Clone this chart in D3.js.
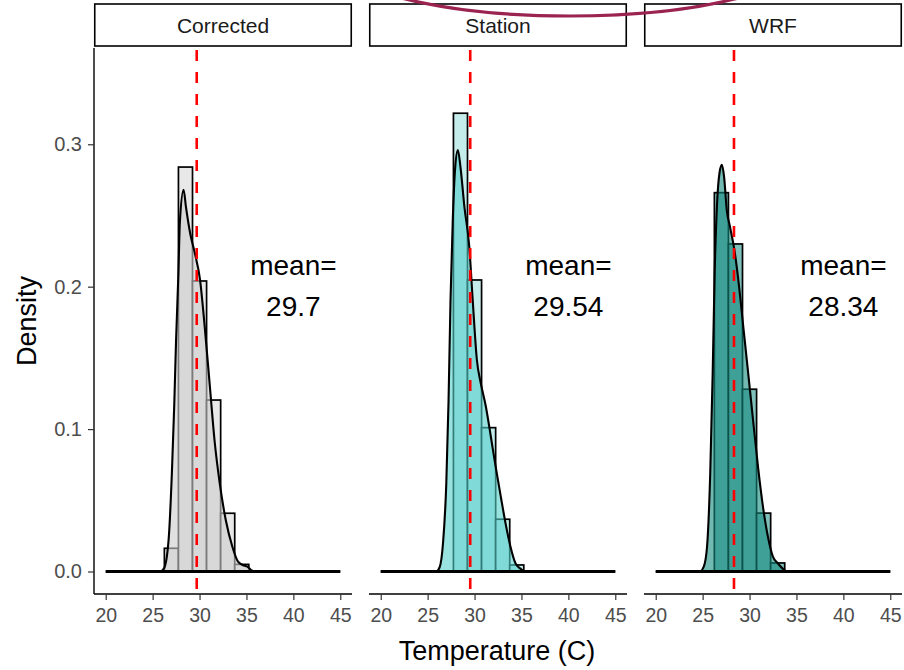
<!DOCTYPE html>
<html>
<head>
<meta charset="utf-8">
<script src="https://cdn.jsdelivr.net/npm/d3@7"></script>
<style>
  body { margin: 0; background: #fff; }
  text { font-family: "Liberation Sans", Arial, sans-serif; }
</style>
</head>
<body>
<svg width="904" height="670"></svg>
<script>
// data
const panels = ["Corrected", "Station", "WRF"];
const means = [29.7, 29.54, 28.34];
const binEdges = [26.25, 27.75, 29.25, 30.75, 32.25, 33.75, 35.25];
const histCorrected = [0.0163, 0.284, 0.204, 0.1204, 0.0409, 0.005];
const histStation = [0.0, 0.3218, 0.2047, 0.101, 0.0367, 0.0046];
const histWRF = [0.266, 0.230, 0.128, 0.041, 0.006, 0.0];

const densXCorrected = [20, 25.8, 26.2, 26.7, 27.05, 27.3, 27.5, 27.75, 27.9, 28.3, 28.55, 29.0, 29.5, 30.05, 30.55, 31.1, 31.6, 32.15, 32.8, 33.5, 34.1, 34.6, 35.1, 35.5, 36.0, 45];
const densYCorrected = [0, 0, 0.002, 0.022, 0.069, 0.116, 0.163, 0.21, 0.245, 0.268, 0.256, 0.2375, 0.2235, 0.205, 0.172, 0.130, 0.092, 0.062, 0.036, 0.0174, 0.0069, 0.0046, 0.0034, 0.001, 0, 0];
const densXStation = [20, 25.9, 26.28, 26.64, 26.99, 27.23, 27.44, 27.69, 27.94, 28.22, 28.5, 28.92, 29.44, 29.8, 30.25, 30.67, 31.2, 31.73, 32.25, 32.8, 33.3, 33.83, 34.36, 34.9, 35.4, 45];
const densYStation = [0, 0, 0.003, 0.020, 0.062, 0.120, 0.191, 0.249, 0.284, 0.296, 0.284, 0.256, 0.228, 0.191, 0.1485, 0.132, 0.116, 0.095, 0.0736, 0.0525, 0.034, 0.0174, 0.0058, 0.002, 0, 0];
const densXWRF = [20, 24.7, 25.12, 25.47, 25.81, 26.07, 26.28, 26.52, 26.8, 27.05, 27.29, 27.57, 27.92, 28.38, 28.8, 29.33, 29.86, 30.38, 30.9, 31.43, 31.96, 32.49, 33.01, 33.54, 34.0, 45];
const densYWRF = [0, 0, 0.0034, 0.0174, 0.069, 0.139, 0.209, 0.256, 0.28, 0.2855, 0.277, 0.254, 0.242, 0.226, 0.205, 0.172, 0.139, 0.106, 0.0736, 0.0455, 0.0244, 0.0104, 0.0058, 0.002, 0, 0];

const xTicks = [20, 25, 30, 35, 40, 45];
const yTicks = [0, 0.1, 0.2, 0.3];
const labelX = 40, labelY = 0.2;

const hists = [histCorrected, histStation, histWRF];
const densX = [densXCorrected, densXStation, densXWRF];
const densY = [densYCorrected, densYStation, densYWRF];

// colours
const barFill = ["#e8e8e8", "#c4ecea", "#80c0bb"];
const densFill = ["#cdcdcd", "#53d1cc", "#148a7f"];

const svg = d3.select("svg");
const panelLeft = [94, 369, 644],
  panelW = 258,
  panelTop = 48,
  panelBottom = 594;

const x = d3.scaleLinear().domain([18.75, 46.25]).range([0, panelW]);
const y = d3.scaleLinear().domain([-0.0158, 0.3676]).range([panelBottom, panelTop]);

panels.forEach(function (name, i) {
  const g = svg.append("g")
    .attr("transform", "translate(" + panelLeft[i] + ",0)");

  // histogram
  const bins = hists[i].map(function (v, k) {
    return { x0: binEdges[k], x1: binEdges[k + 1], v: v };
  });
  g.append("g").selectAll("rect")
    .data(bins)
    .enter().append("rect")
    .attr("x", d => x(d.x0))
    .attr("width", d => x(d.x1) - x(d.x0))
    .attr("y", d => y(d.v))
    .attr("height", d => y(0) - y(d.v))
    .attr("fill", barFill[i])
    .attr("stroke", "#000")
    .attr("stroke-width", 1.7);

  // density
  const pts = densX[i].map((v, k) => [v, densY[i][k]]);
  const area = d3.area()
    .x(d => x(d[0]))
    .y0(y(0))
    .y1(d => y(d[1]))
    .curve(d3.curveMonotoneX);
  g.append("path")
    .datum(pts)
    .attr("d", area)
    .attr("fill", densFill[i])
    .attr("fill-opacity", 0.6)
    .attr("stroke", "#000")
    .attr("stroke-width", 2.1);
  g.append("line")
    .attr("x1", x(densX[i][0])).attr("x2", x(densX[i][densX[i].length - 1]))
    .attr("y1", y(0)).attr("y2", y(0))
    .attr("stroke", "#000")
    .attr("stroke-width", 2.8);

  // mean line
  g.append("line")
    .attr("x1", x(means[i])).attr("x2", x(means[i]))
    .attr("y1", panelTop).attr("y2", panelBottom)
    .attr("stroke", "#ff0000")
    .attr("stroke-width", 2.6)
    .attr("stroke-dasharray", "11,11")
    .attr("stroke-dashoffset", -2);

  // mean label
  const t = g.append("text")
    .attr("text-anchor", "middle")
    .attr("font-size", 28)
    .attr("fill", "#000");
  t.append("tspan").attr("x", x(labelX)).attr("y", y(labelY) - 12).text("mean=");
  t.append("tspan").attr("x", x(labelX)).attr("y", y(labelY) + 29).text(means[i]);

  // x axis
  const ax = g.append("g")
    .attr("transform", "translate(0," + panelBottom + ")")
    .call(d3.axisBottom(x).tickValues(xTicks).tickSize(6).tickPadding(8));
  ax.select(".domain").attr("stroke", "#000").attr("stroke-width", 1.4)
    .attr("d", "M0,0H" + panelW);
  ax.selectAll(".tick line").attr("stroke", "#333").attr("stroke-width", 1.2);
  ax.selectAll(".tick text").attr("fill", "#4d4d4d").attr("font-size", 19.5)
    .attr("font-family", "Liberation Sans, Arial, sans-serif");

  // strip
  g.append("rect")
    .attr("x", 0.75).attr("y", 4)
    .attr("width", panelW - 1.5).attr("height", 42)
    .attr("fill", "#fff")
    .attr("stroke", "#000")
    .attr("stroke-width", 1.6);
  g.append("text")
    .attr("x", panelW / 2).attr("y", 26)
    .attr("dy", "0.35em")
    .attr("text-anchor", "middle")
    .attr("font-size", 21)
    .attr("fill", "#1a1a1a")
    .text(name);
});

// y axis on the first panel only
const ay = svg.append("g")
  .attr("transform", "translate(" + panelLeft[0] + ",0)")
  .call(d3.axisLeft(y).tickValues(yTicks).tickFormat(d3.format(".1f")).tickSize(6).tickPadding(6));
ay.select(".domain").attr("stroke", "#000").attr("stroke-width", 1.4)
  .attr("d", "M0," + panelTop + "V" + panelBottom);
ay.selectAll(".tick line").attr("stroke", "#333").attr("stroke-width", 1.2);
ay.selectAll(".tick text").attr("fill", "#4d4d4d").attr("font-size", 20)
  .attr("font-family", "Liberation Sans, Arial, sans-serif");

// axis titles
svg.append("text")
  .attr("x", 497).attr("y", 660)
  .attr("text-anchor", "middle")
  .attr("font-size", 27)
  .text("Temperature (C)");
svg.append("text")
  .attr("transform", "translate(36," + ((panelTop + panelBottom) / 2) + ") rotate(-90)")
  .attr("text-anchor", "middle")
  .attr("font-size", 27)
  .text("Density");

// hand-drawn highlight ellipse at the top
svg.append("ellipse")
  .attr("cx", 570).attr("cy", -44)
  .attr("rx", 236).attr("ry", 60)
  .attr("fill", "none")
  .attr("stroke", "#9b2350")
  .attr("stroke-width", 3.2);
</script>
</body>
</html>
